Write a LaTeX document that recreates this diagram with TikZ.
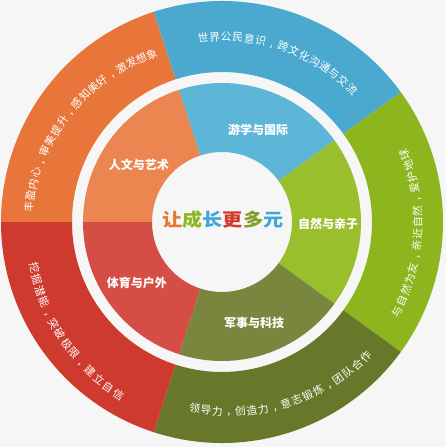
\documentclass[tikz,border=0pt]{standalone}
\usepackage{fontspec}
\newfontfamily\cjk{Noto Sans CJK SC}
\definecolor{oOrange}{HTML}{E8763A}
\definecolor{iOrange}{HTML}{EB8650}
\definecolor{oBlue}{HTML}{4BA9CF}
\definecolor{iBlue}{HTML}{5DB5D8}
\definecolor{oGreen}{HTML}{8DB51D}
\definecolor{iGreen}{HTML}{99BF2C}
\definecolor{oOlive}{HTML}{68782A}
\definecolor{iOlive}{HTML}{78873D}
\definecolor{oRed}{HTML}{CF3A2E}
\definecolor{iRed}{HTML}{D54E45}
\definecolor{bgc}{HTML}{F6F6F6}
\definecolor{tOrange}{HTML}{E8772F}
\definecolor{tGreen}{HTML}{8DB823}
\definecolor{tBlue}{HTML}{40A6D6}
\definecolor{tRed}{HTML}{D33A2B}
\definecolor{tOlive}{HTML}{879D2A}
\tikzset{
  ringtxt/.style={inner sep=0pt, text=white, font=\cjk\fontsize{10.8}{10.8}\selectfont},
  innerlabel/.style={inner sep=0pt, text=white, font=\cjk\bfseries\fontsize{12}{12}\selectfont},
}
\newcommand\cm{\vphantom{国},}
% #1 name, #2 count, #3 start angle, #4 end angle, #5 start radius, #6 end radius, #7 rotation offset, #8 characters
\newcommand\arcwords[8]{%
  \foreach \c [count=\i] in {#8} {
    \pgfmathsetmacro\ang{#3+(\i-1)*(#4-(#3))/(#2-1)}
    \pgfmathsetmacro\rad{#5+(\i-1)*(#6-(#5))/(#2-1)}
    \node[ringtxt, rotate=\ang+#7] (#1-\i) at (\ang:\rad) {\c};
  }%
}
\newcommand\sector[5]{% color, a1, a2, r inner, r outer
  \fill[#1] (#2:#5) arc[start angle=#2, end angle=#3, radius=#5] -- (#3:#4) arc[start angle=#3, end angle=#2, radius=#4] -- cycle;
}
\begin{document}
\begin{tikzpicture}[x=1pt,y=1pt]
\fill[bgc] (-222,-225) rectangle (224,222);
\useasboundingbox (-222,-225) rectangle (224,222);
% outer ring
\sector{oOrange}{108}{180}{150}{221}
\sector{oBlue}{36}{108}{150}{221}
\sector{oGreen}{-36}{36}{150}{221}
\sector{oOlive}{-108}{-36}{150}{221}
\sector{oRed}{180}{252}{150}{221}
% inner ring
\sector{iOrange}{108}{180}{70}{139}
\sector{iBlue}{36}{108}{70}{139}
\sector{iGreen}{-36}{36}{70}{139}
\sector{iOlive}{-108}{-36}{70}{139}
\sector{iRed}{180}{252}{70}{139}
% inner labels
\node[innerlabel] (art) at (-83,57) {人文与艺术};
\node[innerlabel] (intl) at (36,92) {游学与国际};
\node[innerlabel] (nat) at (106,-2) {自然与亲子};
\node[innerlabel] (mil) at (32,-101) {军事与科技};
\node[innerlabel] (spo) at (-85,-61) {体育与户外};
% outer texts
\arcwords{ta}{19}{175.6}{112.7}{194}{182}{-90}{丰,盈,内,心,\cm,审,美,提,升,\cm,感,知,美,好,\cm,激,发,想,象}
\arcwords{tb}{15}{95.9}{45.6}{185}{186}{-90}{世,界,公,民,意,识,\cm,跨,文,化,沟,通,与,交,流}
\arcwords{tc}{15}{-27.1}{20.1}{197}{195}{90}{与,自,然,为,友,\cm,亲,近,自,然,\cm,爱,护,地,球}
\arcwords{td}{17}{261.7}{317}{188}{197}{90}{领,导,力,\cm,创,造,力,\cm,意,志,锻,炼,\cm,团,队,合,作}
\arcwords{te}{14}{193.8}{239}{193}{201}{90}{挖,掘,潜,能,\cm,突,破,极,限,\cm,建,立,自,信}
% title
\node[inner sep=0pt, xscale=1.12, font=\cjk\bfseries\fontsize{18}{18}\selectfont] (title) at (1,2)
  {\textcolor{tOrange}{让}\textcolor{tGreen}{成}\textcolor{tBlue}{长}\textcolor{tRed}{更}\textcolor{tOlive}{多}\textcolor{tBlue}{元}};
\end{tikzpicture}
\end{document}
